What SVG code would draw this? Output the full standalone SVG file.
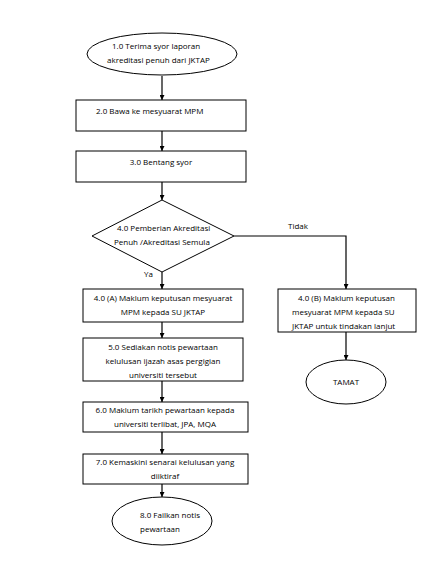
<svg xmlns="http://www.w3.org/2000/svg" width="431" height="580" viewBox="0 0 431 580">
<defs>
<marker id="ah" viewBox="0 0 10 10" refX="10" refY="5" markerWidth="5" markerHeight="5" orient="auto" markerUnits="userSpaceOnUse">
<path d="M0,0 L10,5 L0,10 z" fill="#000"/>
</marker>
<style>
.s{fill:#fff;stroke:#000;stroke-width:1}
.t{font-family:"Open Sans","Liberation Sans",sans-serif;font-size:8px;fill:#000}
.c{stroke:#000;stroke-width:1.2;fill:none;marker-end:url(#ah)}
</style>
</defs>
<rect width="431" height="580" fill="#fff"/>
<g id="connectors">
<path class="c" d="M162,76 V100"/>
<path class="c" d="M162,131 V151"/>
<path class="c" d="M162,182 V200"/>
<path class="c" d="M162,272 V289"/>
<path class="c" d="M234,236 H346 V289"/>
<path class="c" d="M162,322 V338"/>
<path class="c" d="M162,381 V402"/>
<path class="c" d="M162,432 V454"/>
<path class="c" d="M162,484 V497"/>
<path class="c" d="M346,332 V360"/>
<text class="t" x="288" y="229">Tidak</text>
<text class="t" x="144" y="277">Ya</text>
</g>
<g id="n1">
<ellipse class="s" cx="162" cy="54" rx="75" ry="21"/>
<text class="t" x="112" y="49">1.0 Terima syor laporan</text>
<text class="t" x="107" y="63">akreditasi penuh dari JKTAP</text>
</g>
<g id="n2">
<rect class="s" x="76" y="100" width="170" height="31"/>
<text class="t" x="96" y="114">2.0 Bawa ke mesyuarat MPM</text>
</g>
<g id="n3">
<rect class="s" x="76" y="151" width="170" height="31"/>
<text class="t" x="161" y="165" text-anchor="middle">3.0 Bentang syor</text>
</g>
<g id="n4">
<path class="s" d="M162,200 L234,236 L162,272 L92,236 Z"/>
<text class="t" x="117" y="231">4.0 Pemberian Akreditasi</text>
<text class="t" x="114" y="245">Penuh /Akreditasi Semula</text>
</g>
<g id="n4a">
<rect class="s" x="83" y="289" width="160" height="33"/>
<text class="t" x="163" y="301" text-anchor="middle">4.0 (A) Maklum keputusan mesyuarat</text>
<text class="t" x="163" y="315" text-anchor="middle">MPM kepada SU JKTAP</text>
</g>
<g id="n5">
<rect class="s" x="83" y="338" width="160" height="43"/>
<text class="t" x="163" y="350" text-anchor="middle">5.0 Sediakan notis pewartaan</text>
<text class="t" x="163" y="364" text-anchor="middle">kelulusan ijazah asas pergigian</text>
<text class="t" x="163" y="378" text-anchor="middle">universiti tersebut</text>
</g>
<g id="n6">
<rect class="s" x="83" y="402" width="165" height="30"/>
<text class="t" x="165" y="413" text-anchor="middle">6.0 Maklum tarikh pewartaan kepada</text>
<text class="t" x="165" y="427" text-anchor="middle">universiti terlibat, JPA, MQA</text>
</g>
<g id="n7">
<rect class="s" x="83" y="454" width="165" height="30"/>
<text class="t" x="165" y="465" text-anchor="middle">7.0 Kemaskini senarai kelulusan yang</text>
<text class="t" x="165" y="479" text-anchor="middle">diiktiraf</text>
</g>
<g id="n8">
<ellipse class="s" cx="162" cy="521" rx="50" ry="24"/>
<text class="t" x="140" y="518">8.0 Failkan notis</text>
<text class="t" x="140" y="532">pewartaan</text>
</g>
<g id="n4b">
<rect class="s" x="278" y="289" width="138" height="43"/>
<text class="t" x="298" y="301">4.0 (B) Maklum keputusan</text>
<text class="t" x="292" y="315">mesyuarat MPM kepada SU</text>
<text class="t" x="292" y="329">JKTAP untuk tindakan lanjut</text>
</g>
<g id="tamat">
<ellipse class="s" cx="346" cy="382" rx="40" ry="22"/>
<text class="t" x="346" y="385" text-anchor="middle">TAMAT</text>
</g>
</svg>
